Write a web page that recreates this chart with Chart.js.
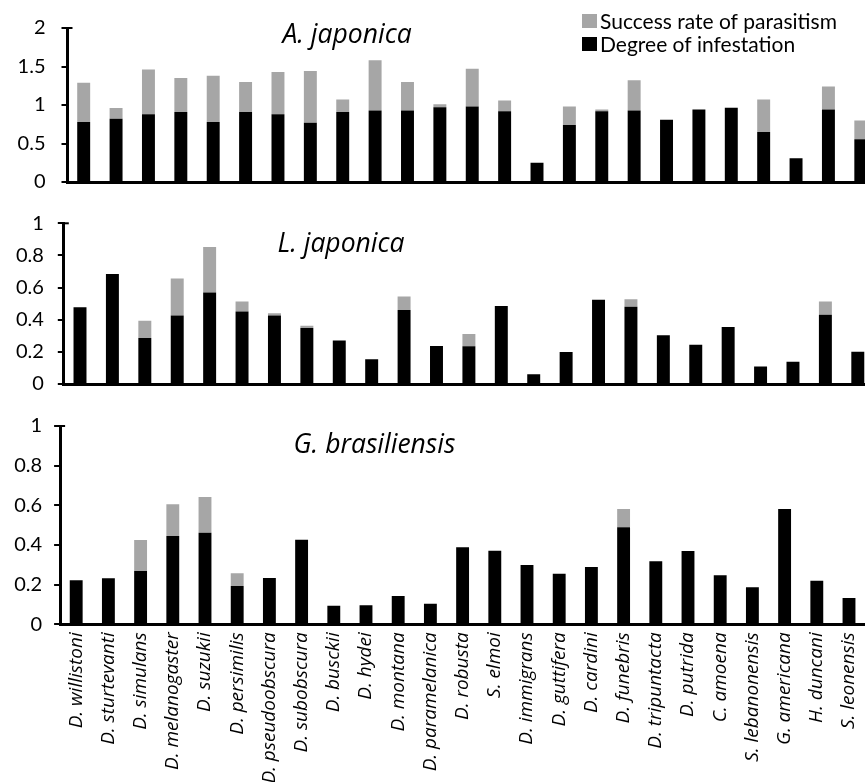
<!DOCTYPE html>
<html>
<head>
<meta charset="utf-8">
<script src="https://cdn.jsdelivr.net/npm/chart.js@4.4.0/dist/chart.umd.min.js"></script>
<style>
  html, body { margin: 0; padding: 0; background: #fff; overflow: hidden; width: 865px; height: 782px; }
  .panel { position: absolute; left: 0; }
</style>
</head>
<body>
<div class="panel" style="top:0px"><canvas id="c1" width="880" height="210"></canvas></div>
<div class="panel" style="top:195px"><canvas id="c2" width="880" height="215"></canvas></div>
<div class="panel" style="top:400px"><canvas id="c3" width="880" height="382"></canvas></div>
<script>
// species on the x axis
const species = ['D. willistoni', 'D. sturtevanti', 'D. simulans', 'D. melanogaster', 'D. suzukii',
  'D. persimilis', 'D. pseudoobscura', 'D. subobscura', 'D. busckii', 'D. hydei', 'D. montana',
  'D. paramelanica', 'D. robusta', 'S. elmoi', 'D. immigrans', 'D. guttifera', 'D. cardini',
  'D. funebris', 'D. tripuntacta', 'D. putrida', 'C. amoena', 'S. lebanonensis', 'G. americana',
  'H. duncani', 'S. leonensis'];

const seriesNames = ['Degree of infestation', 'Success rate of parasitism'];

// A. japonica (black part, grey part stacked on top)
const ajDegree = [0.78, 0.82, 0.88, 0.91, 0.78, 0.91, 0.88, 0.77, 0.91, 0.93, 0.93, 0.97, 0.98,
  0.92, 0.25, 0.74, 0.92, 0.93, 0.81, 0.94, 0.96, 0.65, 0.31, 0.94, 0.555];
const ajSuccess = [0.51, 0.14, 0.58, 0.44, 0.60, 0.39, 0.55, 0.67, 0.16, 0.65, 0.37, 0.04, 0.49,
  0.14, 0, 0.24, 0.02, 0.39, 0, 0, 0.01, 0.42, 0, 0.30, 0.245];

// L. japonica
const ljDegree = [0.478, 0.684, 0.287, 0.427, 0.569, 0.451, 0.427, 0.348, 0.271, 0.154, 0.46,
  0.237, 0.235, 0.486, 0.061, 0.199, 0.524, 0.48, 0.304, 0.245, 0.354, 0.109, 0.138, 0.431, 0.2];
const ljSuccess = [0, 0, 0.106, 0.229, 0.283, 0.063, 0.014, 0.014, 0, 0, 0.085, 0, 0.076, 0, 0,
  0, 0, 0.048, 0, 0, 0, 0, 0, 0.083, 0];

// G. brasiliensis
const gbDegree = [0.222, 0.232, 0.269, 0.445, 0.462, 0.193, 0.233, 0.427, 0.094, 0.096, 0.143,
  0.104, 0.388, 0.371, 0.299, 0.255, 0.289, 0.489, 0.318, 0.37, 0.247, 0.187, 0.581, 0.22, 0.133];
const gbSuccess = [0, 0, 0.156, 0.16, 0.18, 0.064, 0, 0, 0, 0, 0, 0, 0, 0, 0, 0, 0, 0.092, 0, 0,
  0, 0, 0, 0, 0];

Chart.defaults.font.family = 'Lato';
Chart.defaults.font.size = 20;
Chart.defaults.color = '#000';

// italic title inside each panel
const panelTitle = {
  id: 'panelTitle',
  afterDatasetsDraw(chart, args, o) {
    if (!o.text) return;
    const ctx = chart.ctx;
    ctx.save();
    ctx.font = 'italic 26.5px "Open Sans"';
    ctx.fillStyle = '#000';
    ctx.textAlign = 'center';
    ctx.textBaseline = 'alphabetic';
    ctx.fillText(o.text, o.x, o.y);
    ctx.restore();
  }
};

// small inward tick at the top end of the value axis
const axisCap = {
  id: 'axisCap',
  afterDraw(chart) {
    const y = chart.scales.y;
    const ctx = chart.ctx;
    ctx.save();
    ctx.strokeStyle = '#000';
    ctx.lineWidth = 2;
    ctx.beginPath();
    ctx.moveTo(y.right, y.top);
    ctx.lineTo(y.right + 5, y.top);
    ctx.stroke();
    ctx.restore();
  }
};

// two-row legend, grey entry first
const boxLegend = {
  id: 'boxLegend',
  afterDraw(chart, args, o) {
    if (!o.show) return;
    const ctx = chart.ctx;
    const sets = chart.data.datasets.slice().reverse();
    ctx.save();
    ctx.font = '21px Lato';
    ctx.textBaseline = 'middle';
    ctx.textAlign = 'left';
    sets.forEach((ds, i) => {
      const y = o.y + i * o.rowH;
      ctx.fillStyle = ds.backgroundColor;
      ctx.fillRect(o.x, y - 7, 15, 14);
      ctx.fillStyle = '#000';
      ctx.fillText(ds.label, o.x + 18, y + 1);
    });
    ctx.restore();
  }
};

function makePanel(id, degree, success, cfg) {
  new Chart(document.getElementById(id), {
    type: 'bar',
    data: {
      labels: species,
      datasets: [
        { label: seriesNames[0], data: degree, backgroundColor: '#000000', borderWidth: 0 },
        { label: seriesNames[1], data: success, backgroundColor: '#A6A6A6', borderWidth: 0 }
      ]
    },
    plugins: [panelTitle, boxLegend, axisCap],
    options: {
      responsive: false,
      animation: false,
      layout: { padding: cfg.padding },
      datasets: { bar: { barPercentage: 0.4, categoryPercentage: 1.0 } },
      plugins: {
        legend: { display: false },
        tooltip: { enabled: false },
        panelTitle: cfg.title,
        boxLegend: cfg.legend || { show: false }
      },
      scales: {
        x: {
          stacked: true,
          grid: { display: true, drawOnChartArea: false, drawTicks: false },
          border: { display: true, color: '#000', width: 3 },
          ticks: cfg.xLabels ? {
            display: true, autoSkip: false, minRotation: 90, maxRotation: 90, padding: 8,
            font: { family: '"Open Sans"', style: 'italic', size: 19 }, color: '#000'
          } : { display: false },
          afterFit: s => { s.height = cfg.xHeight; }
        },
        y: {
          stacked: true,
          min: 0,
          max: cfg.yMax,
          ticks: {
            stepSize: cfg.yStep, padding: cfg.tickPad, color: '#000', font: { size: 20 },
            callback: v => String(Number(v.toFixed(2)))
          },
          grid: { drawOnChartArea: false, drawTicks: true, tickLength: 6, color: '#000', lineWidth: 2 },
          border: { display: true, color: '#000', width: 3 },
          afterFit: s => { s.width = cfg.yWidth; }
        }
      }
    }
  });
}

makePanel('c1', ajDegree, ajSuccess, {
  padding: { left: 0, right: 3, top: 19, bottom: 20.5 },
  yWidth: 67.5, yMax: 2, yStep: 0.5, tickPad: 16, xHeight: 0,
  title: { text: 'A. japonica', x: 347, y: 43 },
  legend: { show: true, x: 582, y: 21, rowH: 23 }
});

makePanel('c2', ljDegree, ljSuccess, {
  padding: { left: 0, right: 6, top: 28.3, bottom: 22 },
  yWidth: 63.8, yMax: 1, yStep: 0.2, tickPad: 14, xHeight: 0,
  title: { text: 'L. japonica', x: 341, y: 57 }
});

makePanel('c3', gbDegree, gbSuccess, {
  padding: { left: 0, right: 9.8, top: 26, bottom: 0 },
  yWidth: 60.1, yMax: 1, yStep: 0.2, tickPad: 12, xHeight: 157.7, xLabels: true,
  title: { text: 'G. brasiliensis', x: 374.5, y: 53 }
});
</script>
</body>
</html>
